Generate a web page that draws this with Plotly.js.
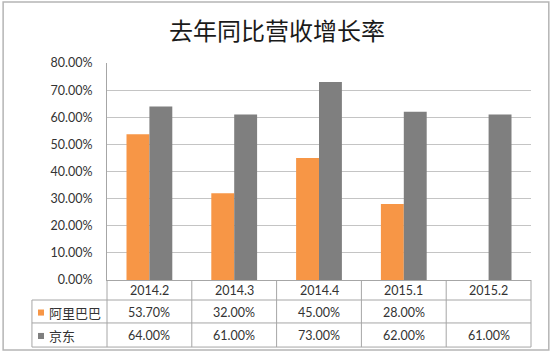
<!DOCTYPE html>
<html>
<head>
<meta charset="utf-8">
<script src="https://cdn.plot.ly/plotly-3.0.1.min.js"></script>
<style>html,body{margin:0;padding:0;background:#fff;}#chart{width:554px;height:352px;}</style>
</head>
<body>
<div id="chart"></div>
<script>
var categories = ['2014.2', '2014.3', '2014.4', '2015.1', '2015.2'];
var alibabaName = '阿里巴巴';
var jdName = '京东';
var alibabaValues = [53.7, 32.0, 45.0, 28.0, null];
var jdValues = [64.0, 61.0, 73.0, 62.0, 61.0];
var titleText = '去年同比营收增长率';
var colors = ['#F79646', '#7F7F7F'];

var font = 'Lato, "Noto Sans CJK SC", sans-serif';
var cjk = '"Noto Sans CJK SC", sans-serif';
var textColor = '#333333';
var lineColor = '#a6a6a6';

var traces = [
  {type: 'bar', x: categories, y: alibabaValues, name: alibabaName, marker: {color: colors[0]}, hoverinfo: 'none'},
  {type: 'bar', x: categories, y: jdValues, name: jdName, marker: {color: colors[1]}, hoverinfo: 'none'}
];

function fmt(v) { return (v === null || v === undefined) ? '' : v.toFixed(2) + '%'; }

var rowsY = {header: -0.048, r1: -0.150, r2: -0.258};
var lineY = [0, -0.0922, -0.198, -0.309];
var legendLeft = -0.177;

var annotations = [];
categories.forEach(function (c, i) {
  annotations.push({xref: 'x', yref: 'paper', x: i, y: rowsY.header, text: c, showarrow: false, font: {family: font, size: 12.5, color: textColor}, xanchor: 'center', yanchor: 'middle'});
  annotations.push({xref: 'x', yref: 'paper', x: i, y: rowsY.r1, text: fmt(alibabaValues[i]), showarrow: false, font: {family: font, size: 12.5, color: textColor}, xanchor: 'center', yanchor: 'middle'});
  annotations.push({xref: 'x', yref: 'paper', x: i, y: rowsY.r2, text: fmt(jdValues[i]), showarrow: false, font: {family: font, size: 12.5, color: textColor}, xanchor: 'center', yanchor: 'middle'});
});
annotations.push({xref: 'paper', yref: 'paper', x: -0.141, y: rowsY.r1, text: alibabaName, showarrow: false, font: {family: cjk, size: 13, color: textColor}, xanchor: 'left', yanchor: 'middle'});
annotations.push({xref: 'paper', yref: 'paper', x: -0.141, y: rowsY.r2, text: jdName, showarrow: false, font: {family: cjk, size: 13, color: textColor}, xanchor: 'left', yanchor: 'middle'});

var shapes = [];
shapes.push({type: 'rect', xref: 'paper', yref: 'paper', x0: -0.245, x1: 1.042, y0: -0.323, y1: 1.281, line: {color: '#b5b5b5', width: 1.5}, fillcolor: 'rgba(0,0,0,0)', layer: 'below'});
for (var i = 0; i <= categories.length; i++) {
  var xp = i / categories.length;
  shapes.push({type: 'line', xref: 'paper', yref: 'paper', x0: xp, x1: xp, y0: 0, y1: lineY[3], line: {color: lineColor, width: 1}});
}
shapes.push({type: 'line', xref: 'paper', yref: 'paper', x0: legendLeft, x1: legendLeft, y0: lineY[1], y1: lineY[3], line: {color: lineColor, width: 1}});
for (var j = 1; j < lineY.length; j++) {
  shapes.push({type: 'line', xref: 'paper', yref: 'paper', x0: legendLeft, x1: 1, y0: lineY[j], y1: lineY[j], line: {color: lineColor, width: 1}});
}
shapes.push({type: 'rect', xref: 'paper', yref: 'paper', x0: -0.1627, x1: -0.1486, y0: rowsY.r1 - 0.014, y1: rowsY.r1 + 0.014, fillcolor: colors[0], line: {width: 0}});
shapes.push({type: 'rect', xref: 'paper', yref: 'paper', x0: -0.1627, x1: -0.1486, y0: rowsY.r2 - 0.014, y1: rowsY.r2 + 0.014, fillcolor: colors[1], line: {width: 0}});

var layout = {
  width: 554, height: 352,
  margin: {l: 107, r: 23, t: 63, b: 72, pad: 0},
  paper_bgcolor: '#ffffff', plot_bgcolor: '#ffffff',
  showlegend: false,
  barmode: 'group', bargap: 0.46, bargroupgap: 0,
  title: {text: titleText, font: {family: cjk, size: 24, color: '#1a1a1a'}, x: 277 / 554, xref: 'container', xanchor: 'center', y: 1 - 32 / 352, yref: 'container', yanchor: 'middle'},
  xaxis: {type: 'category', range: [-0.5, 4.5], showticklabels: false, showline: true, linecolor: lineColor, linewidth: 1, showgrid: false, zeroline: false, fixedrange: true},
  yaxis: {range: [0, 80], dtick: 10, tick0: 0, tickformat: '.2f', ticksuffix: '%', showline: true, linecolor: lineColor, linewidth: 1, gridcolor: '#c4c4c4', gridwidth: 1, zeroline: false, ticks: '', ticklabelstandoff: 11, tickfont: {family: font, size: 12.5, color: textColor}, fixedrange: true},
  annotations: annotations,
  shapes: shapes
};

Plotly.newPlot('chart', traces, layout, {displayModeBar: false, staticPlot: true});
</script>
</body>
</html>
